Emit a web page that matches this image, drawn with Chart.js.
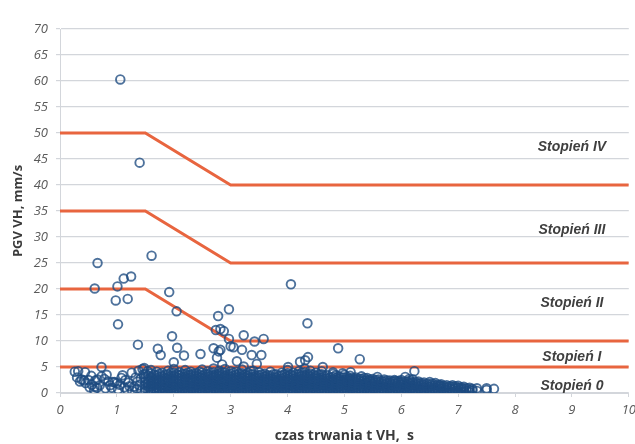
<!DOCTYPE html>
<html>
<head>
<meta charset="utf-8">
<script src="https://cdn.jsdelivr.net/npm/chart.js@4.4.1/dist/chart.umd.min.js"></script>
<style>
  html, body { margin: 0; padding: 0; background: #ffffff; }
  #wrap { width: 635px; height: 444px; position: relative; }
</style>
</head>
<body>
<div id="wrap"><canvas id="chart"></canvas></div>
<script>
// Skala osi
const xTicks = [0, 1, 2, 3, 4, 5, 6, 7, 8, 9, 10];
const yTicks = [0, 5, 10, 15, 20, 25, 30, 35, 40, 45, 50, 55, 60, 65, 70];

// Granice stopni szkodliwości (czas [s], PGV [mm/s])
const limitX = [0, 1.5, 3, 10];
const limitIV = [50, 50, 40, 40];
const limitIII = [35, 35, 25, 25];
const limitII = [20, 20, 10, 10];
const limitIX = [0, 10];
const limitI = [5, 5];

// Opisy stref
const stageNames = ['Stopień IV', 'Stopień III', 'Stopień II', 'Stopień I', 'Stopień 0'];
const stageY = [47.2, 31.4, 17.3, 6.9, 1.3];
const stageX = 9.0;

// Pomiary odstające (czas, PGV)
const outliers = [
  [1.06, 60.3], [1.40, 44.3], [0.66, 25.0], [1.61, 26.4], [0.61, 20.1], [1.01, 20.5],
  [1.12, 22.0], [1.25, 22.4], [0.98, 17.8], [1.19, 18.1], [1.02, 13.2], [1.92, 19.4],
  [2.05, 15.7], [1.97, 10.9], [2.06, 8.7], [1.37, 9.3], [1.72, 8.5], [1.77, 7.3],
  [2.18, 7.2], [2.47, 7.5], [2.00, 5.9], [2.78, 14.8], [2.97, 16.1], [2.74, 12.1],
  [2.88, 11.9], [2.82, 12.3], [2.97, 10.4], [3.00, 9.0], [3.05, 8.8], [3.23, 11.1],
  [3.20, 8.3], [3.58, 10.4], [3.42, 9.9], [2.70, 8.6], [2.76, 6.8], [2.82, 8.3],
  [2.85, 5.5], [3.11, 6.1], [3.23, 5.1], [3.37, 7.3], [3.54, 7.3], [3.46, 5.6],
  [4.06, 20.9], [4.35, 13.4], [4.89, 8.6], [5.27, 6.5], [4.36, 6.9], [4.31, 6.3],
  [4.22, 6.0], [4.01, 5.0], [2.79, 8.0], [4.62, 5.0], [4.80, 4.0], [4.97, 3.8],
  [5.11, 4.0], [5.58, 3.1], [5.88, 2.5], [6.07, 3.1], [6.23, 4.2], [6.14, 2.7],
  [6.68, 1.5]
];

// Rozproszone pomiary krótkotrwałe
const earlyPoints = [
  [0.26, 4.1], [0.32, 4.2], [0.44, 4.0], [0.35, 2.2], [0.42, 2.4], [0.38, 2.6],
  [0.45, 1.9], [0.50, 2.5], [0.56, 1.6], [0.62, 2.4], [0.66, 2.6], [0.65, 1.0],
  [0.61, 1.2], [0.70, 1.5], [0.73, 5.0], [0.73, 3.2], [0.82, 3.5], [0.85, 2.2],
  [0.91, 1.0], [0.93, 2.1], [0.96, 2.1], [1.00, 1.9], [1.05, 1.6], [1.08, 2.9],
  [1.13, 1.1], [1.18, 0.6], [1.20, 2.0], [1.26, 3.9], [1.30, 1.2], [1.36, 2.2],
  [1.40, 1.5], [1.45, 4.6], [1.48, 4.8], [1.54, 4.2], [1.44, 0.5], [1.27, 0.4],
  [0.30, 3.0], [0.55, 3.3], [0.60, 0.6], [0.78, 2.7], [0.88, 1.5], [1.10, 3.4],
  [1.15, 2.5], [1.22, 1.3], [1.33, 3.0], [1.38, 4.3], [1.42, 2.8], [1.02, 0.7],
  [1.47, 3.6], [1.35, 0.8], [0.52, 1.1], [0.80, 0.9]
];

// Gęste skupisko: czas i odczytane wartości PGV w kolumnach
const clusterColumns = [
  [1.5, [0.3, 0.9, 1.6, 2.2, 2.9, 3.7]],
  [1.6, [0.1, 0.7, 1.3, 1.8, 2.4, 3.1, 3.8, 4.4]],
  [1.7, [0.2, 0.6, 1.1, 1.7, 2.3, 2.8, 3.4, 4.1]],
  [1.8, [0.0, 0.5, 1.0, 1.5, 2.1, 2.6, 3.2, 3.9]],
  [1.9, [0.3, 0.8, 1.3, 1.9, 2.4, 3.0, 3.6, 4.3]],
  [2.0, [0.1, 0.6, 1.1, 1.6, 2.2, 2.7, 3.3, 3.9, 4.6]],
  [2.1, [0.2, 0.7, 1.2, 1.7, 2.3, 2.8, 3.4, 4.0]],
  [2.2, [0.0, 0.5, 1.0, 1.5, 2.0, 2.6, 3.1, 3.7, 4.4]],
  [2.3, [0.3, 0.8, 1.3, 1.8, 2.4, 2.9, 3.5, 4.1]],
  [2.4, [0.1, 0.6, 1.1, 1.6, 2.1, 2.7, 3.2, 3.8]],
  [2.5, [0.2, 0.7, 1.2, 1.7, 2.2, 2.8, 3.3, 3.9, 4.5]],
  [2.6, [0.0, 0.5, 1.0, 1.5, 2.0, 2.5, 3.1, 3.6, 4.2]],
  [2.7, [0.3, 0.8, 1.3, 1.8, 2.3, 2.9, 3.4, 4.0, 4.7]],
  [2.8, [0.1, 0.6, 1.1, 1.6, 2.1, 2.6, 3.2, 3.7, 4.3]],
  [2.9, [0.2, 0.7, 1.2, 1.7, 2.2, 2.8, 3.3, 3.9, 4.6]],
  [3.0, [0.0, 0.5, 1.0, 1.5, 2.0, 2.6, 3.1, 3.7, 4.2]],
  [3.1, [0.3, 0.8, 1.3, 1.8, 2.4, 2.9, 3.5, 4.1]],
  [3.2, [0.1, 0.6, 1.1, 1.6, 2.1, 2.7, 3.2, 3.8, 4.5]],
  [3.3, [0.2, 0.7, 1.2, 1.7, 2.2, 2.8, 3.3, 3.9]],
  [3.4, [0.0, 0.5, 1.0, 1.5, 2.0, 2.5, 3.1, 3.6, 4.3]],
  [3.5, [0.3, 0.8, 1.3, 1.8, 2.3, 2.9, 3.4, 4.0]],
  [3.6, [0.1, 0.6, 1.1, 1.6, 2.1, 2.6, 3.2, 3.7]],
  [3.7, [0.2, 0.7, 1.2, 1.7, 2.2, 2.8, 3.3, 4.1]],
  [3.8, [0.0, 0.5, 1.0, 1.5, 2.0, 2.5, 3.0, 3.6]],
  [3.9, [0.3, 0.8, 1.3, 1.8, 2.3, 2.8, 3.4, 3.9]],
  [4.0, [0.1, 0.6, 1.1, 1.6, 2.1, 2.6, 3.2, 3.8, 4.4]],
  [4.1, [0.2, 0.7, 1.2, 1.7, 2.2, 2.7, 3.3, 3.9]],
  [4.2, [0.0, 0.5, 1.0, 1.5, 2.0, 2.5, 3.1, 3.6, 4.2]],
  [4.3, [0.3, 0.8, 1.3, 1.8, 2.3, 2.8, 3.4, 4.0, 4.7]],
  [4.4, [0.1, 0.6, 1.1, 1.6, 2.1, 2.6, 3.2, 3.7, 4.3]],
  [4.5, [0.2, 0.7, 1.2, 1.7, 2.2, 2.8, 3.3, 3.9]],
  [4.6, [0.0, 0.5, 1.0, 1.5, 2.0, 2.5, 3.0, 3.6, 4.2]],
  [4.7, [0.3, 0.8, 1.3, 1.8, 2.3, 2.8, 3.4]],
  [4.8, [0.1, 0.6, 1.1, 1.6, 2.1, 2.6, 3.1, 3.7]],
  [4.9, [0.2, 0.7, 1.2, 1.7, 2.2, 2.7, 3.2]],
  [5.0, [0.0, 0.5, 1.0, 1.5, 2.0, 2.5, 3.0, 3.5]],
  [5.1, [0.3, 0.8, 1.3, 1.8, 2.3, 2.8, 3.3]],
  [5.2, [0.1, 0.6, 1.1, 1.6, 2.1, 2.6, 3.0]],
  [5.3, [0.2, 0.7, 1.2, 1.7, 2.2, 2.7, 3.2]],
  [5.4, [0.0, 0.5, 1.0, 1.5, 2.0, 2.5, 2.9]],
  [5.5, [0.3, 0.8, 1.3, 1.8, 2.3, 2.7]],
  [5.6, [0.1, 0.6, 1.1, 1.6, 2.1, 2.6]],
  [5.7, [0.2, 0.7, 1.2, 1.7, 2.2, 2.6]],
  [5.8, [0.0, 0.5, 1.0, 1.5, 2.0, 2.4]],
  [5.9, [0.3, 0.8, 1.3, 1.8, 2.3]],
  [6.0, [0.1, 0.6, 1.1, 1.6, 2.1, 2.5]],
  [6.1, [0.2, 0.7, 1.2, 1.7, 2.2]],
  [6.2, [0.0, 0.5, 1.0, 1.5, 2.0, 2.6]],
  [6.3, [0.3, 0.8, 1.3, 1.8, 2.2]],
  [6.4, [0.1, 0.6, 1.1, 1.6, 2.0]],
  [6.5, [0.2, 0.7, 1.2, 1.7, 2.1]],
  [6.6, [0.0, 0.5, 1.0, 1.5, 1.9]],
  [6.7, [0.3, 0.8, 1.3, 1.7]],
  [6.8, [0.1, 0.6, 1.1, 1.5]],
  [6.9, [0.2, 0.7, 1.2, 1.5]],
  [7.0, [0.1, 0.5, 1.0, 1.4]],
  [7.1, [0.3, 0.8, 1.2]],
  [7.2, [0.2, 0.6, 1.0]],
  [7.33, [0.4, 0.9]],
  [7.5, [0.6, 0.9]],
  [7.63, [0.8]]
];

// Kolumny pośrednie tego samego skupiska
const clusterMidColumns = [
  [1.55, [0.5, 1.2, 1.9, 2.6, 3.3]],
  [1.65, [0.4, 0.9, 1.5, 2.1, 2.6, 3.5]],
  [1.75, [0.3, 0.8, 1.4, 2.0, 2.5, 3.1, 3.7]],
  [1.85, [0.2, 0.7, 1.2, 1.8, 2.3, 2.9, 3.5]],
  [1.95, [0.0, 0.5, 1.0, 1.6, 2.1, 2.7, 3.3, 3.9]],
  [2.05, [0.3, 0.8, 1.4, 1.9, 2.5, 3.0, 3.6]],
  [2.15, [0.4, 0.9, 1.4, 2.0, 2.5, 3.1, 3.7]],
  [2.25, [0.2, 0.7, 1.2, 1.7, 2.2, 2.8, 3.4, 3.9]],
  [2.35, [0.0, 0.5, 1.0, 1.5, 2.1, 2.6, 3.2, 3.7]],
  [2.45, [0.3, 0.8, 1.3, 1.9, 2.4, 3.0, 3.5, 4.1]],
  [2.55, [0.4, 0.9, 1.4, 2.0, 2.5, 3.0, 3.6]],
  [2.65, [0.2, 0.7, 1.2, 1.7, 2.3, 2.8, 3.3, 3.9]],
  [2.75, [0.0, 0.5, 1.0, 1.5, 2.1, 2.6, 3.1, 3.6]],
  [2.85, [0.3, 0.8, 1.3, 1.9, 2.4, 2.9, 3.5, 4.0]],
  [2.95, [0.4, 0.9, 1.4, 2.0, 2.5, 3.0, 3.5]],
  [3.05, [0.2, 0.7, 1.2, 1.7, 2.2, 2.8, 3.3, 3.9]],
  [3.15, [0.0, 0.5, 1.0, 1.5, 2.1, 2.6, 3.1, 3.7]],
  [3.25, [0.3, 0.8, 1.3, 1.9, 2.4, 2.9, 3.5]],
  [3.35, [0.4, 0.9, 1.4, 2.0, 2.5, 3.0, 3.6, 4.2]],
  [3.45, [0.2, 0.7, 1.2, 1.7, 2.2, 2.8, 3.3]],
  [3.55, [0.0, 0.5, 1.0, 1.5, 2.0, 2.5, 3.0, 3.6]],
  [3.65, [0.3, 0.8, 1.3, 1.9, 2.4, 2.9, 3.4]],
  [3.75, [0.4, 0.9, 1.4, 2.0, 2.5, 3.0, 3.6]],
  [3.85, [0.2, 0.7, 1.2, 1.7, 2.2, 2.7, 3.3]],
  [3.95, [0.0, 0.5, 1.0, 1.5, 2.0, 2.5, 3.0, 3.6]],
  [4.05, [0.3, 0.8, 1.3, 1.9, 2.4, 2.9, 3.5]],
  [4.15, [0.4, 0.9, 1.4, 2.0, 2.5, 3.0, 3.6]],
  [4.25, [0.2, 0.7, 1.2, 1.7, 2.2, 2.7, 3.3, 3.9]],
  [4.35, [0.0, 0.5, 1.0, 1.5, 2.0, 2.6, 3.1, 3.6]],
  [4.45, [0.3, 0.8, 1.3, 1.9, 2.4, 2.9, 3.5]],
  [4.55, [0.4, 0.9, 1.4, 2.0, 2.5, 3.0, 3.5]],
  [4.65, [0.2, 0.7, 1.2, 1.7, 2.2, 2.7, 3.2]],
  [4.75, [0.0, 0.5, 1.0, 1.5, 2.0, 2.5, 3.0]],
  [4.85, [0.3, 0.8, 1.3, 1.9, 2.4, 2.9, 3.4]],
  [4.95, [0.4, 0.9, 1.4, 2.0, 2.5, 3.0]],
  [5.05, [0.2, 0.7, 1.2, 1.7, 2.2, 2.7, 3.1]],
  [5.15, [0.0, 0.5, 1.0, 1.5, 2.0, 2.5, 2.9]],
  [5.25, [0.3, 0.8, 1.3, 1.9, 2.4, 2.8]],
  [5.35, [0.4, 0.9, 1.4, 1.9, 2.4, 2.9]],
  [5.45, [0.2, 0.7, 1.2, 1.7, 2.2, 2.6]],
  [5.55, [0.0, 0.5, 1.0, 1.5, 2.0, 2.5]],
  [5.65, [0.3, 0.8, 1.3, 1.8, 2.3]],
  [5.75, [0.4, 0.9, 1.4, 1.9, 2.4]],
  [5.85, [0.2, 0.7, 1.2, 1.7, 2.2]],
  [5.95, [0.0, 0.5, 1.0, 1.5, 2.0, 2.3]],
  [6.05, [0.3, 0.8, 1.3, 1.8, 2.2]],
  [6.15, [0.4, 0.9, 1.4, 1.9, 2.3]],
  [6.25, [0.2, 0.7, 1.2, 1.7, 2.1]],
  [6.35, [0.0, 0.5, 1.0, 1.5, 1.9]],
  [6.45, [0.3, 0.8, 1.3, 1.8]],
  [6.55, [0.4, 0.9, 1.4, 1.8]],
  [6.65, [0.2, 0.7, 1.2, 1.6]],
  [6.75, [0.0, 0.5, 1.0, 1.4]],
  [6.85, [0.3, 0.8, 1.3]],
  [6.95, [0.4, 0.9, 1.3]],
  [7.05, [0.2, 0.7, 1.1]],
  [7.15, [0.4, 0.9]],
  [7.25, [0.5, 0.8]]
];

const toXY = ([x, y]) => ({ x, y });
const fromColumns = (cols) => cols.flatMap(([x, ys]) => ys.map(y => ({ x, y })));
const measurements = outliers.map(toXY)
  .concat(earlyPoints.map(toXY))
  .concat(fromColumns(clusterColumns))
  .concat(fromColumns(clusterMidColumns));

const limitLine = (xs, ys) => xs.map((x, i) => ({ x, y: ys[i] }));

const LIMIT_COLOR = '#e8653f';
const POINT_COLOR = 'rgba(28, 74, 128, 0.78)';
const GRID_COLOR = '#d3d6db';
const TICK_COLOR = '#5a5a5a';

// Napisy "Stopień ..." rysowane w jednostkach osi
const stageLabels = {
  id: 'stageLabels',
  afterDatasetsDraw(chart) {
    const { ctx, scales: { x, y } } = chart;
    ctx.save();
    ctx.font = 'italic bold 14px "Liberation Sans", Arial, sans-serif';
    ctx.fillStyle = '#3f3f3f';
    ctx.textAlign = 'center';
    ctx.textBaseline = 'middle';
    stageNames.forEach((name, i) => {
      ctx.fillText(name, x.getPixelForValue(stageX), y.getPixelForValue(stageY[i]));
    });
    ctx.restore();
  }
};

const limitDataset = (data) => ({
  type: 'scatter',
  data,
  showLine: true,
  borderColor: LIMIT_COLOR,
  borderWidth: 3,
  pointRadius: 0,
  pointHoverRadius: 0,
  tension: 0,
  order: 2
});

new Chart(document.getElementById('chart'), {
  type: 'scatter',
  data: {
    datasets: [
      {
        label: 'PGV VH',
        data: measurements,
        pointStyle: 'circle',
        pointRadius: 4.3,
        pointBorderWidth: 1.9,
        pointBackgroundColor: 'rgba(0,0,0,0)',
        pointBorderColor: POINT_COLOR,
        order: 1
      },
      limitDataset(limitLine(limitX, limitIV)),
      limitDataset(limitLine(limitX, limitIII)),
      limitDataset(limitLine(limitX, limitII)),
      limitDataset(limitLine(limitIX, limitI))
    ]
  },
  options: {
    responsive: true,
    maintainAspectRatio: false,
    animation: false,
    layout: { padding: { top: 29, right: 4, left: 0, bottom: 0 } },
    plugins: {
      legend: { display: false },
      tooltip: { enabled: false }
    },
    scales: {
      x: {
        type: 'linear',
        min: 0,
        max: 10,
        afterBuildTicks: (scale) => { scale.ticks = xTicks.map(v => ({ value: v })); },
        afterFit: (scale) => {
          scale.height = 51;
          scale.paddingRight = 0;
          scale.paddingLeft = 0;
        },
        grid: { drawOnChartArea: false, drawTicks: true, tickLength: 4, color: GRID_COLOR },
        border: { display: true, color: GRID_COLOR, width: 1 },
        ticks: {
          color: TICK_COLOR,
          padding: 5,
          maxRotation: 0,
          font: { family: '"Open Sans"', size: 13, style: 'italic' }
        },
        title: {
          display: true,
          text: 'czas trwania t VH,  s',
          color: '#3a3a3a',
          padding: { top: -5, bottom: 0 },
          font: { family: '"Open Sans"', size: 14, weight: 'bold' }
        }
      },
      y: {
        type: 'linear',
        min: 0,
        max: 70,
        afterBuildTicks: (scale) => { scale.ticks = yTicks.map(v => ({ value: v })); },
        afterFit: (scale) => { scale.width = 60; },
        grid: { color: GRID_COLOR, lineWidth: 1.2, tickLength: 4 },
        border: { display: true, color: GRID_COLOR, width: 1 },
        ticks: {
          color: TICK_COLOR,
          padding: 8,
          font: { family: '"Open Sans"', size: 13, style: 'italic' }
        },
        title: {
          display: true,
          text: 'PGV VH, mm/s',
          color: '#3a3a3a',
          padding: { top: 10, bottom: 0 },
          font: { family: '"Open Sans"', size: 13, weight: 'bold' }
        }
      }
    }
  },
  plugins: [stageLabels]
});
</script>
</body>
</html>
